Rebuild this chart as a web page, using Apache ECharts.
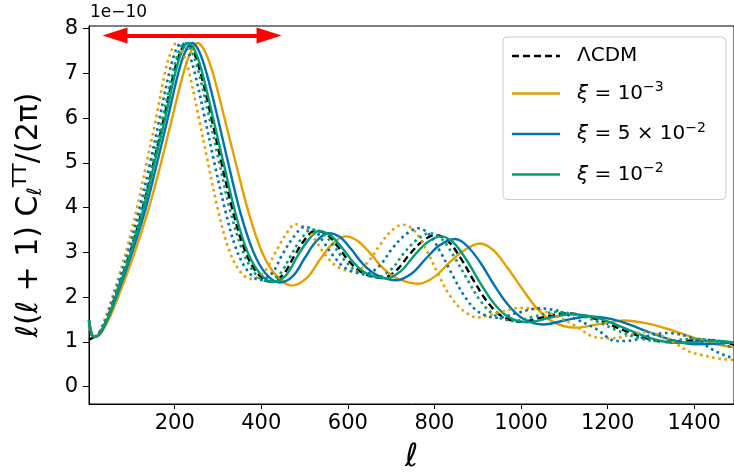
<!DOCTYPE html>
<html><head><meta charset="utf-8">
<script src="https://cdn.jsdelivr.net/npm/echarts@6/dist/echarts.min.js"></script>
<style>html,body{margin:0;padding:0;background:#fff}#c{width:734px;height:475px}</style>
</head><body><div id="c"></div>
<script>
// tick labels
const xTicks = [200, 400, 600, 800, 1000, 1200, 1400];
const yTicks = [0, 1, 2, 3, 4, 5, 6, 7, 8];
const legendNames = ['ΛCDM', 'ξ = 10^-3', 'ξ = 5×10^-2', 'ξ = 10^-2'];

// series values: [ell, ell(ell+1)C_ell/(2pi) in units of 1e-10]
const lcdm = [[2,1.05],[6,1.07],[12,1.1],[20,1.13],[30,1.25],[45,1.55],[60,1.95],[80,2.5],[100,3.1],[125,3.95],[150,4.95],[175,6.0],[198,7.0],[214,7.5],[228,7.68],[243,7.5],[260,7.0],[285,6.0],[308,5.0],[335,3.9],[362,3.05],[390,2.55],[420,2.35],[450,2.5],[475,2.9],[500,3.28],[525,3.49],[552,3.4],[578,3.12],[603,2.8],[633,2.55],[678,2.43],[712,2.6],[742,2.95],[772,3.25],[803,3.39],[832,3.25],[862,2.85],[892,2.35],[922,1.9],[955,1.58],[1000,1.45],[1050,1.55],[1100,1.64],[1150,1.58],[1190,1.45],[1240,1.25],[1290,1.08],[1335,1.0],[1380,1.02],[1420,1.05],[1460,1.02],[1490,0.94],[1530,0.78]];
const xi3 = [[2,1.48],[7,1.25],[13,1.12],[22,1.13],[33,1.25],[50,1.55],[67,1.95],[89,2.5],[111,3.1],[139,3.95],[167,4.95],[194,6.0],[220,7.0],[238,7.5],[253,7.68],[270,7.49],[289,6.98],[316,5.96],[342,4.96],[372,3.85],[402,3.0],[433,2.5],[470,2.26],[506,2.44],[534,2.82],[563,3.18],[594,3.36],[621,3.27],[650,3.0],[678,2.68],[712,2.43],[763,2.3],[801,2.46],[835,2.78],[869,3.05],[905,3.2],[936,3.05],[970,2.64],[1004,2.17],[1037,1.75],[1074,1.45],[1125,1.32],[1181,1.4],[1238,1.48],[1294,1.41],[1339,1.29],[1395,1.11],[1451,0.95],[1502,0.87]];
const xi5 = [[2,1.48],[6,1.25],[13,1.12],[21,1.13],[32,1.25],[47,1.55],[63,1.95],[84,2.5],[105,3.1],[132,3.95],[158,4.95],[184,6.0],[208,7.0],[225,7.5],[240,7.68],[256,7.5],[274,6.99],[300,5.98],[324,4.98],[352,3.88],[381,3.03],[410,2.53],[442,2.33],[473,2.47],[500,2.87],[526,3.24],[555,3.43],[581,3.35],[608,3.07],[634,2.75],[666,2.5],[713,2.38],[749,2.54],[781,2.87],[812,3.16],[848,3.3],[875,3.15],[907,2.76],[938,2.27],[970,1.83],[1005,1.52],[1052,1.39],[1105,1.49],[1157,1.57],[1210,1.51],[1252,1.38],[1304,1.19],[1357,1.02],[1404,0.95],[1452,0.96],[1494,0.99],[1536,0.96]];
const xi2 = [[2,1.48],[6,1.25],[12,1.12],[20,1.13],[30,1.25],[46,1.55],[61,1.95],[81,2.5],[102,3.1],[127,3.95],[152,4.95],[178,6.0],[201,7.0],[217,7.5],[231,7.68],[247,7.5],[264,7.0],[289,5.99],[313,4.99],[340,3.89],[367,3.04],[396,2.54],[426,2.34],[457,2.49],[482,2.89],[508,3.27],[533,3.48],[560,3.38],[587,3.10],[612,2.79],[642,2.54],[688,2.42],[723,2.59],[753,2.93],[784,3.23],[815,3.36],[844,3.22],[875,2.82],[905,2.33],[936,1.88],[969,1.57],[1015,1.44],[1066,1.54],[1117,1.62],[1167,1.56],[1208,1.43],[1259,1.23],[1309,1.06],[1355,0.98],[1401,1.0],[1441,1.03],[1482,1.0],[1512,0.92]];
const xi3dot = [[2,1.48],[5,1.25],[11,1.12],[18,1.13],[27,1.25],[40,1.55],[54,1.95],[72,2.5],[90,3.1],[112,3.95],[134,4.95],[157,6.0],[177,7.0],[192,7.5],[204,7.68],[217,7.51],[233,7.03],[255,6.04],[276,5.05],[300,3.95],[324,3.1],[349,2.6],[376,2.41],[407,2.57],[432,2.99],[456,3.39],[479,3.63],[503,3.54],[526,3.26],[549,2.93],[576,2.68],[614,2.57],[644,2.76],[672,3.14],[699,3.47],[727,3.62],[753,3.49],[780,3.08],[807,2.55],[834,2.06],[864,1.72],[900,1.55],[950,1.66],[996,1.76],[1041,1.72],[1077,1.6],[1122,1.38],[1167,1.12],[1208,1.08],[1249,1.15],[1285,1.22],[1321,1.15],[1348,1.03],[1385,0.8],[1421,0.7],[1457,0.63],[1493,0.6],[1530,0.6]];
const xi5dot = [[2,1.48],[6,1.25],[11,1.12],[19,1.13],[28,1.25],[43,1.55],[57,1.95],[76,2.5],[95,3.1],[118,3.95],[142,4.95],[165,6.0],[187,7.0],[202,7.5],[215,7.68],[230,7.51],[246,7.02],[269,6.03],[291,5.03],[317,3.93],[342,3.08],[369,2.58],[397,2.38],[425,2.54],[449,2.96],[475,3.35],[500,3.57],[524,3.49],[546,3.2],[570,2.88],[598,2.63],[641,2.52],[673,2.7],[701,3.07],[732,3.39],[763,3.54],[788,3.4],[815,2.99],[843,2.47],[871,2.0],[902,1.67],[945,1.54],[992,1.65],[1040,1.75],[1087,1.69],[1125,1.52],[1172,1.3],[1221,1.02],[1260,1.04],[1295,1.14],[1337,1.2],[1397,1.08],[1452,0.78],[1490,0.64],[1521,0.58]];
const xi2dot = [[2,1.48],[6,1.25],[12,1.12],[20,1.13],[29,1.25],[44,1.55],[59,1.95],[79,2.5],[98,3.1],[123,3.95],[147,4.95],[172,6.0],[195,7.0],[210,7.5],[224,7.68],[239,7.5],[256,7.0],[280,6.0],[303,5.0],[329,3.9],[356,3.06],[383,2.56],[413,2.36],[442,2.51],[467,2.91],[492,3.3],[516,3.51],[543,3.42],[568,3.14],[593,2.82],[622,2.57],[666,2.45],[700,2.62],[729,2.98],[759,3.28],[789,3.43],[818,3.29],[847,2.88],[877,2.38],[906,1.92],[939,1.6],[983,1.47],[1032,1.57],[1081,1.67],[1130,1.61],[1170,1.48],[1219,1.27],[1268,1.1],[1312,1.02],[1357,1.04],[1396,1.07],[1435,1.04],[1465,0.96],[1504,0.8]];
// annotation arrow (ell range, level)
const arrowEll = [62, 418];
const arrowLevel = 7.85;

const FONT = 'DejaVu Sans';
const ORANGE = '#e69f00', BLUE = '#0072b2', GREEN = '#009e73';
const ICON_SOLID = 'path://M0,0h48v2.6h-48z';
const ICON_DASHED = 'path://M0,0h7v2.6h-7z M11,0h7v2.6h-7z M22,0h7v2.6h-7z M33,0h7v2.6h-7z M44,0h4v2.6h-4z';

function solid(name, data, color) {
  return { name, type: 'line', data, symbol: 'none', smooth: 0.35, z: 3,
    lineStyle: { color, width: 2.4, type: 'solid' }, itemStyle: { color } };
}
function dotted(name, data, color) {
  return { name, type: 'line', data, symbol: 'none', smooth: 0.35, z: 4,
    lineStyle: { color, width: 2.6, type: [2.6, 3.6], cap: 'butt' }, itemStyle: { color } };
}

const chart = echarts.init(document.getElementById('c'), null, { renderer: 'canvas' });
const legendRich = {
  t: { fontFamily: FONT, fontSize: 20, color: '#000', lineHeight: 24 },
  i: { fontFamily: FONT, fontSize: 20, fontStyle: 'italic', color: '#000', lineHeight: 24 },
  s: { fontFamily: FONT, fontSize: 14, color: '#000', padding: [0, 0, 12, 0], lineHeight: 24 }
};
const legendFmt = {};
legendFmt[legendNames[0]] = '{t|ΛCDM}';
legendFmt[legendNames[1]] = '{i|ξ}{t| = 10}{s|−3}';
legendFmt[legendNames[2]] = '{i|ξ}{t| = 5 × 10}{s|−2}';
legendFmt[legendNames[3]] = '{i|ξ}{t| = 10}{s|−2}';

chart.setOption({
  animation: false,
  backgroundColor: '#fff',
  grid: { left: 89, right: 0, top: 26, bottom: 71, show: true, borderColor: '#000', borderWidth: 1, outerBoundsMode: 'none' },
  xAxis: {
    type: 'value', min: 2, max: 1492,
    name: '{i|ℓ}', nameLocation: 'middle', nameGap: 38,
    nameTextStyle: { rich: { i: { fontFamily: FONT, fontSize: 32, fontStyle: 'italic', color: '#000' } } },
    axisLine: { show: true, onZero: false, lineStyle: { color: '#000', width: 1 } },
    axisTick: { show: true, length: 5, lineStyle: { color: '#000' }, customValues: xTicks },
    axisLabel: { color: '#000', fontFamily: FONT, fontSize: 21, margin: 9, customValues: xTicks, formatter: v => String(v) },
    splitLine: { show: false }
  },
  yAxis: {
    type: 'value', min: -0.386, max: 8.06,
    name: '{i|ℓ}{t|(}{i|ℓ}{t| + 1) C}{sub|ℓ}{sup|TT}{t|/(2π)}',
    nameLocation: 'middle', nameGap: 42, nameRotate: 90,
    nameTextStyle: { rich: {
      t: { fontFamily: FONT, fontSize: 30, color: '#000' },
      i: { fontFamily: FONT, fontSize: 30, fontStyle: 'italic', color: '#000' },
      sub: { fontFamily: FONT, fontSize: 20, fontStyle: 'italic', color: '#000', padding: [14, 0, 0, 0] },
      sup: { fontFamily: FONT, fontSize: 20, color: '#000', padding: [0, 0, 16, 0] }
    } },
    axisLine: { show: true, onZero: false, lineStyle: { color: '#000', width: 1 } },
    axisTick: { show: true, length: 6, lineStyle: { color: '#000' }, customValues: yTicks },
    axisLabel: { color: '#000', fontFamily: FONT, fontSize: 21, margin: 11, customValues: yTicks, formatter: v => String(v) },
    splitLine: { show: false }
  },
  legend: {
    data: [
      { name: legendNames[0], icon: ICON_DASHED },
      { name: legendNames[1], icon: ICON_SOLID },
      { name: legendNames[2], icon: ICON_SOLID },
      { name: legendNames[3], icon: ICON_SOLID }
    ],
    orient: 'vertical', left: 503, top: 37,
    itemWidth: 48, itemHeight: 2.6, itemGap: 14.5,
    padding: [9, 20, 12, 9],
    backgroundColor: 'rgba(255,255,255,0.85)', borderColor: '#cccccc', borderWidth: 1, borderRadius: 4,
    textStyle: { fontFamily: FONT, fontSize: 20, color: '#000', padding: [0, 0, 0, 12], rich: legendRich },
    formatter: n => legendFmt[n],
    selectedMode: false
  },
  graphic: [
    { type: 'text', left: 90, top: 4, style: { text: '1e−10', fontFamily: FONT, fontSize: 17, fill: '#000' } }
  ],
  series: [
    { name: legendNames[0], type: 'line', data: lcdm, symbol: 'none', smooth: 0.35, z: 2,
      lineStyle: { color: '#000', width: 2.4, type: [7, 4] }, itemStyle: { color: '#000' },
      markLine: { silent: true, symbol: ['triangle', 'triangle'], symbolSize: [16, 25],
        label: { show: false }, lineStyle: { color: '#ff0000', width: 4, type: 'solid' },
        itemStyle: { color: '#ff0000' },
        data: [[{ coord: [arrowEll[0], arrowLevel] }, { coord: [arrowEll[1], arrowLevel] }]] } },
    solid(legendNames[1], xi3, ORANGE),
    solid(legendNames[2], xi5, BLUE),
    solid(legendNames[3], xi2, GREEN),
    dotted('xi3 dotted', xi3dot, ORANGE),
    dotted('xi5 dotted', xi5dot, BLUE),
    dotted('xi2 dotted', xi2dot, GREEN)
  ]
});
</script>
</body></html>
